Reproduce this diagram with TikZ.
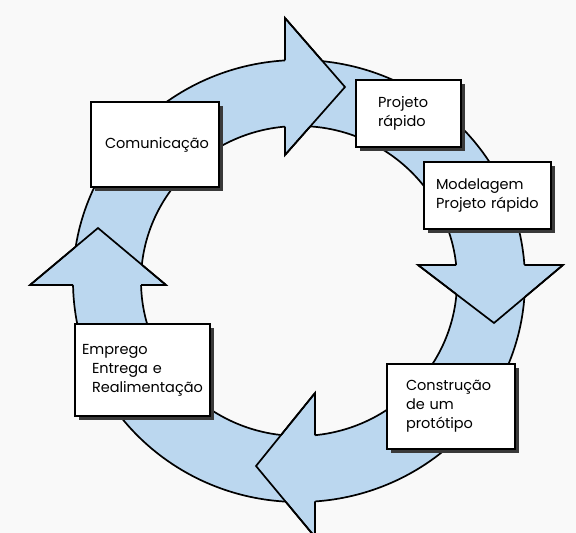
\documentclass[tikz,border=0pt]{standalone}
\usepackage{fontspec}
\setmainfont{Poppins}
\usetikzlibrary{shadows}
\definecolor{ringblue}{RGB}{187,215,239}
\definecolor{shadowgray}{RGB}{58,58,58}
\definecolor{paper}{RGB}{249,249,249}
\begin{document}
\begin{tikzpicture}[x=1pt,y=-1pt,
  boxstyle/.style={draw=black, line width=1.3pt, fill=white, inner ysep=0pt,
    font=\fontsize{14.5}{19}\selectfont,
    drop shadow={shadow xshift=4pt, shadow yshift=-4pt, fill=shadowgray, opacity=1}},
  outl/.style={draw=black, line width=1.7pt, line join=miter},
  blu/.style={fill=ringblue}
]
\useasboundingbox (0,0) rectangle (576,533);
\fill[paper] (0,0) rectangle (576,533);
\coordinate (c) at (299,281);
% the ring
\filldraw[blu, outl, even odd rule] (c) ellipse[x radius=226pt, y radius=221pt] (c) ellipse[x radius=158pt, y radius=155pt];
% arrowheads: filled over the ring
\fill[blu] (285,18) -- (345,87) -- (285,155) -- cycle;
\fill[blu] (418,265) -- (563,265) -- (494,323) -- cycle;
\fill[blu] (315,393) -- (256,466) -- (315,537) -- cycle;
\fill[blu] (30,285) -- (166,285) -- (98,228) -- cycle;
% outlines of the arrowheads outside the ring band
\begin{scope}[even odd rule]
  \clip (-10,-10) rectangle (590,550) (c) ellipse[x radius=226pt, y radius=221pt] (c) ellipse[x radius=158pt, y radius=155pt];
  \draw[outl] (285,18) -- (345,87) -- (285,155) -- cycle;
  \draw[outl] (418,265) -- (563,265) -- (494,323) -- cycle;
  \draw[outl] (315,393) -- (256,466) -- (315,537) -- cycle;
  \draw[outl] (30,285) -- (166,285) -- (98,228) -- cycle;
\end{scope}
% slanted edges over the ring band
\draw[outl] (285,18) -- (345,87) -- (285,155);
\draw[outl] (418,265) -- (494,323) -- (563,265);
\draw[outl] (315,393) -- (256,466) -- (315,537);
\draw[outl] (30,285) -- (98,228) -- (166,285);
% boxes
\node[boxstyle, align=center, text width=100pt, inner xsep=14pt, minimum height=85pt] (com) at (155,144.5) {Comunicação};
\node[boxstyle, align=left, text width=61pt, inner xsep=22pt, minimum height=67pt] (proj) at (408.5,113.5) {Projeto\\rápido};
\node[boxstyle, align=left, text width=103pt, inner xsep=12pt, minimum height=67pt] (mod) at (487.5,195.5) {Modelagem\\Projeto~rápido};
\node[boxstyle, align=left, text width=90pt, inner xsep=19pt, minimum height=85pt] (cons) at (451,406.5) {Construção\\de~um\\protótipo};
\node[boxstyle, align=left, text width=121pt, inner xsep=7pt, minimum height=92pt] (emp) at (142.5,370) {Emprego\\\hspace*{10pt}Entrega~e\\\hspace*{10pt}Realimentação};
\end{tikzpicture}
\end{document}
